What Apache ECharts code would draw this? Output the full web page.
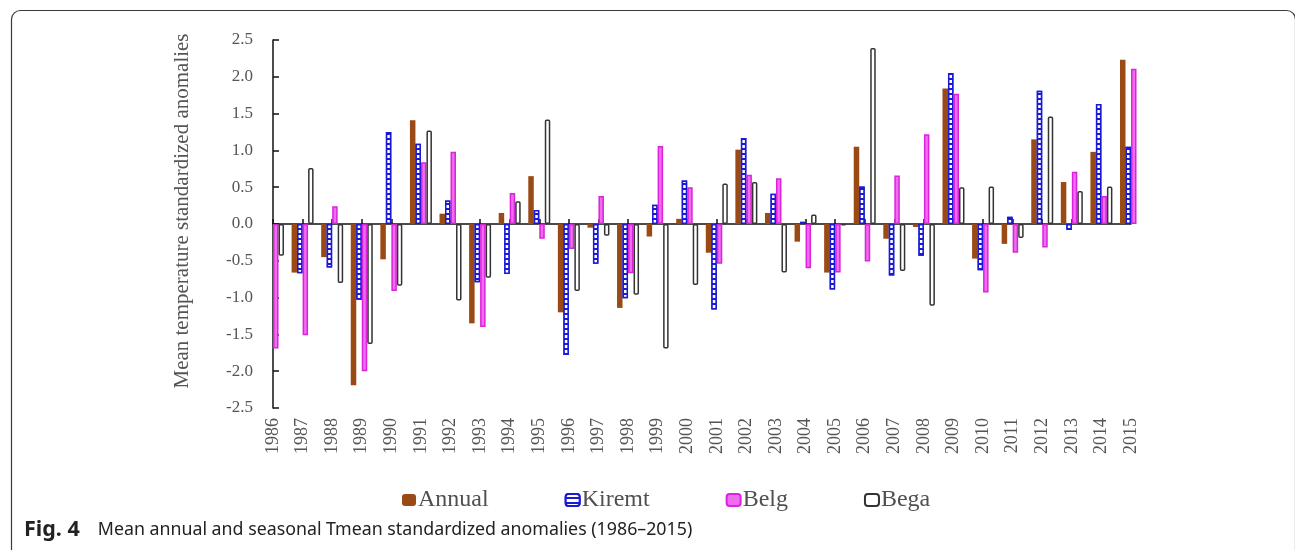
<!DOCTYPE html>
<html>
<head>
<meta charset="utf-8">
<script src="https://cdn.jsdelivr.net/npm/echarts@6/dist/echarts.min.js"></script>
<style>
html,body{margin:0;padding:0;background:#fff;}
#c{width:1295px;height:550px;}
</style>
</head>
<body>
<div id="c"></div>
<script>
const years = ['1986','1987','1988','1989','1990','1991','1992','1993','1994','1995','1996','1997','1998','1999','2000','2001','2002','2003','2004','2005','2006','2007','2008','2009','2010','2011','2012','2013','2014','2015'];
// 1986 Annual/Kiremt and 2015 Bega fall outside the plot frame in the reference (not visible)
const annual = [null,-0.66,-0.45,-2.19,-0.48,1.41,0.14,-1.35,0.15,0.65,-1.20,-0.05,-1.14,-0.17,0.07,-0.39,1.01,0.15,-0.24,-0.66,1.05,-0.20,-0.04,1.84,-0.47,-0.27,1.15,0.57,0.98,2.23];
const kiremt = [null,-0.67,-0.59,-1.03,1.25,1.09,0.32,-0.79,-0.68,0.19,-1.78,-0.54,-1.01,0.26,0.59,-1.16,1.17,0.41,0.03,-0.89,0.51,-0.70,-0.43,2.05,-0.63,0.10,1.81,-0.08,1.63,1.05];
const belg = [-1.69,-1.51,0.24,-2.00,-0.91,0.84,0.98,-1.40,0.42,-0.20,-0.34,0.38,-0.67,1.06,0.50,-0.54,0.67,0.62,-0.60,-0.66,-0.51,0.66,1.22,1.77,-0.93,-0.39,-0.32,0.71,0.38,2.11];
const bega = [-0.43,0.76,-0.80,-1.63,-0.84,1.27,-1.04,-0.73,0.31,1.42,-0.91,-0.16,-0.96,-1.69,-0.83,0.55,0.57,-0.66,0.13,-0.02,2.39,-0.64,-1.11,0.50,0.51,-0.19,1.46,0.45,0.51,null];
const seriesNames = ['Annual','Kiremt','Belg','Bega'];
const yTicks = {min:-2.5, max:2.5, interval:0.5};
const yTitle = 'Mean temperature standardized anomalies';
const captionBold = 'Fig. 4';
const captionText = 'Mean annual and seasonal Tmean standardized anomalies (1986\u20132015)';

const serif = '"Liberation Serif","Times New Roman",serif';
const chart = echarts.init(document.getElementById('c'), null, {renderer:'canvas'});

const barBase = {type:'bar', barWidth:5.5, barGap:'0%', clip:true, xAxisIndex:0, yAxisIndex:0};

chart.setOption({
  animation:false,
  backgroundColor:'#fff',
  graphic:[
    {type:'rect', shape:{x:11.5, y:10.5, width:1284, height:700, r:9}, style:{fill:'none', stroke:'#3a3a3a', lineWidth:1.2}, silent:true, z:-1},
    {type:'text', left:24, top:519, style:{
      text:'{b|'+captionBold+'}{n|'+captionText+'}',
      rich:{
        b:{fontFamily:'"Noto Sans",sans-serif', fontWeight:'bold', fontSize:21.5, fill:'#222', padding:[0,18,0,0]},
        n:{fontFamily:'"Noto Sans",sans-serif', fontSize:17.8, fill:'#222'}
      }
    }}
  ],
  legend:{
    data:seriesNames,
    left:397, top:483,
    itemWidth:14, itemHeight:12, itemGap:76,
    textStyle:{fontFamily:serif, fontSize:24, color:'#505050', padding:[0,0,0,-3]}
  },
  grid:{left:273, right:164, top:40, bottom:142, containLabel:false},
  xAxis:[
    {type:'category', data:years, boundaryGap:false, position:'bottom',
     axisLine:{show:false, onZero:false}, axisTick:{show:false}, splitLine:{show:false},
     axisLabel:{interval:0, rotate:90, margin:10, fontFamily:serif, fontSize:18, color:'#555'}},
    {type:'category', data:years, boundaryGap:false, position:'bottom',
     axisLine:{show:true, onZero:true, onZeroAxisIndex:0, lineStyle:{color:'#111', width:1.5}},
     axisTick:{show:true, inside:true, length:5, interval:0, lineStyle:{color:'#111', width:1.5}},
     axisLabel:{show:false}, splitLine:{show:false}}
  ],
  yAxis:{type:'value', min:yTicks.min, max:yTicks.max, interval:yTicks.interval,
    name:yTitle, nameLocation:'middle', nameGap:80, nameRotate:90,
    nameTextStyle:{fontFamily:serif, fontSize:21, color:'#555', padding:[0,0,0,26]},
    axisLine:{show:true, lineStyle:{color:'#111', width:1.5}},
    axisTick:{show:true, inside:true, length:6, lineStyle:{color:'#111', width:1.5}},
    splitLine:{show:false},
    axisLabel:{margin:20, fontFamily:serif, fontSize:17, color:'#555', formatter:v=>v.toFixed(1)}
  },
  series:[
    Object.assign({}, barBase, {name:'Annual', data:annual,
      itemStyle:{color:'#9A4A14'}}),
    Object.assign({}, barBase, {name:'Kiremt', data:kiremt,
      itemStyle:{color:'#1a1ad6', borderColor:'#1a1ad6', borderWidth:1.5,
        decal:{symbol:'rect', symbolSize:1, color:'#ffffff', dashArrayX:[1,0], dashArrayY:[3,2], rotation:0}}}),
    Object.assign({}, barBase, {name:'Belg', data:belg,
      itemStyle:{color:'#ee6cee', borderColor:'#dc22dc', borderWidth:1.5}}),
    Object.assign({}, barBase, {name:'Bega', data:bega,
      itemStyle:{color:'#ffffff', borderColor:'#333333', borderWidth:1.5, borderRadius:1}})
  ]
});
</script>
</body>
</html>
